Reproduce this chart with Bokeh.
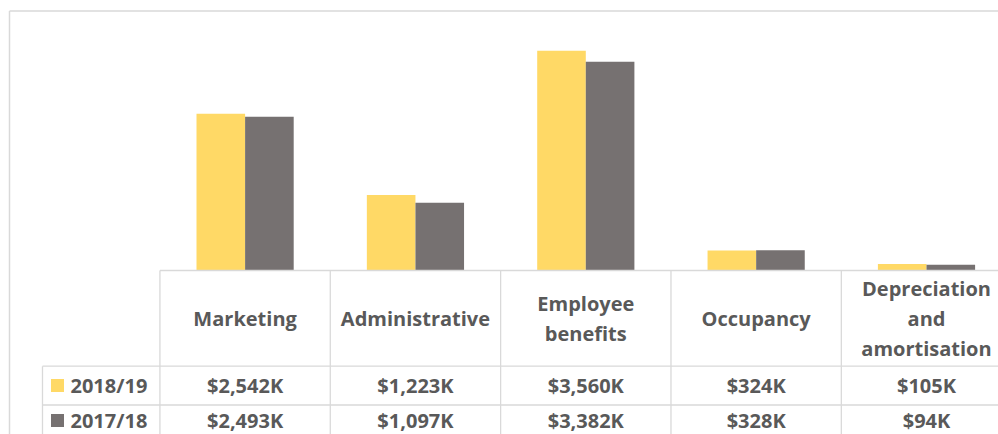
import numpy as np
from bokeh.plotting import figure
from bokeh.models import Range1d, ColumnDataSource
from bokeh.embed import file_html
from bokeh.resources import INLINE
from bokeh.core.properties import value

# ---------------- data ----------------
categories = ["Marketing", "Administrative", "Employee benefits", "Occupancy",
              "Depreciation and amortisation"]
header_labels = ["Marketing", "Administrative", "Employee\nbenefits", "Occupancy",
                 "Depreciation\nand\namortisation"]
series_names = ["2018/19", "2017/18"]
values_2018 = [2542, 1223, 3560, 324, 105]
values_2017 = [2493, 1097, 3382, 328, 94]
series_values = [values_2018, values_2017]
series_colors = ["#FFD966", "#767171"]

# ---------------- layout (screen px) ----------------
W, H = 998, 434
ORG = 0
X0, DX = 244.6, 170.35  # centre of first category, category pitch
BASE = 270              # baseline of bars
PX_PER_K = 0.0617
GRID = "#d9d9d9"
TXT = "#595959"
FONT = "Open Sans"
FS = "20px"

HDR_TOP, HDR_BOT = BASE, 365.7
ROW_H = 38.8
LEG_LEFT = 42

x_range = Range1d((ORG - X0) / DX, (ORG + W - X0) / DX)
y_range = Range1d(-(ORG + H - BASE) / PX_PER_K, (BASE - ORG) / PX_PER_K)

p = figure(width=W, height=H, x_range=x_range, y_range=y_range,
           output_backend="svg", toolbar_location=None,
           x_axis_location=None, y_axis_location=None, min_border=0)
p.extra_x_ranges = {"px": Range1d(ORG, ORG + W)}
p.extra_y_ranges = {"px": Range1d(ORG + H, ORG)}
p.grid.visible = False
p.outline_line_color = None
p.background_fill_color = "white"
p.border_fill_color = "white"

n = len(categories)
idx = np.arange(n)
bar_w = 0.2853
offsets = [-bar_w / 2, bar_w / 2]

for vals, col, off, name in zip(series_values, series_colors, offsets, series_names):
    src = ColumnDataSource(dict(x=idx + off, top=vals))
    p.vbar(x="x", top="top", bottom=0, width=bar_w, source=src,
           fill_color=col, line_color=None)

# outer chart border
p.segment(x0=[9, 9], y0=[10.5, 10.5], x1=[W + 5, 9], y1=[10.5, H + 5],
          line_color=GRID, line_width=1.5, x_range_name="px", y_range_name="px")

# table horizontal lines
row_bottoms = [HDR_BOT + ROW_H * (k + 1) for k in range(len(series_names))]
p.segment(x0=[X0 - DX / 2, LEG_LEFT] + [LEG_LEFT] * len(row_bottoms),
          y0=[HDR_TOP, HDR_BOT] + row_bottoms,
          x1=[W + 5] * (2 + len(row_bottoms)),
          y1=[HDR_TOP, HDR_BOT] + row_bottoms,
          line_color=GRID, line_width=1.3, x_range_name="px", y_range_name="px")

# table vertical lines (category boundaries) in data x
bx = list(np.arange(n + 1) - 0.5)
src_v = ColumnDataSource(dict(x0=bx, x1=bx, y0=[HDR_TOP] * len(bx), y1=[H + 5] * len(bx)))
p.segment(x0="x0", x1="x1", y0="y0", y1="y1", source=src_v,
          line_color=GRID, line_width=1.3, y_range_name="px")
p.segment(x0=[LEG_LEFT], x1=[LEG_LEFT], y0=[HDR_BOT], y1=[H + 5],
          line_color=GRID, line_width=1.3, x_range_name="px", y_range_name="px")

# header labels
src_h = ColumnDataSource(dict(x=idx, y=[(HDR_TOP + HDR_BOT) / 2] * n, t=header_labels))
p.text(x="x", y="y", text="t", source=src_h, y_range_name="px",
       text_font=value(FONT), text_font_style="bold", text_font_size=FS,
       text_color=TXT, text_align="center", text_baseline="middle",
       text_line_height=1.1)

# value rows + legend
row_nudge = [0, -4]
for k, (vals, col, name) in enumerate(zip(series_values, series_colors, series_names)):
    yc = HDR_BOT + ROW_H * (k + 0.5) + row_nudge[k]
    src_r = ColumnDataSource(dict(x=idx, y=[yc] * n, t=[f"${v:,}K" for v in vals]))
    p.text(x="x", y="y", text="t", source=src_r, y_range_name="px",
           text_font=value(FONT), text_font_style="bold", text_font_size=FS,
           text_color=TXT, text_align="center", text_baseline="middle")
    p.scatter(x=[57], y=[yc], marker="square", size=13, fill_color=col, line_color=None,
              x_range_name="px", y_range_name="px")
    p.text(x=[70], y=[yc], text=[name], x_range_name="px", y_range_name="px",
           text_font=value(FONT), text_font_style="bold", text_font_size=FS,
           text_color=TXT, text_align="left", text_baseline="middle")

open("out.html", "w").write(file_html(p, INLINE))
